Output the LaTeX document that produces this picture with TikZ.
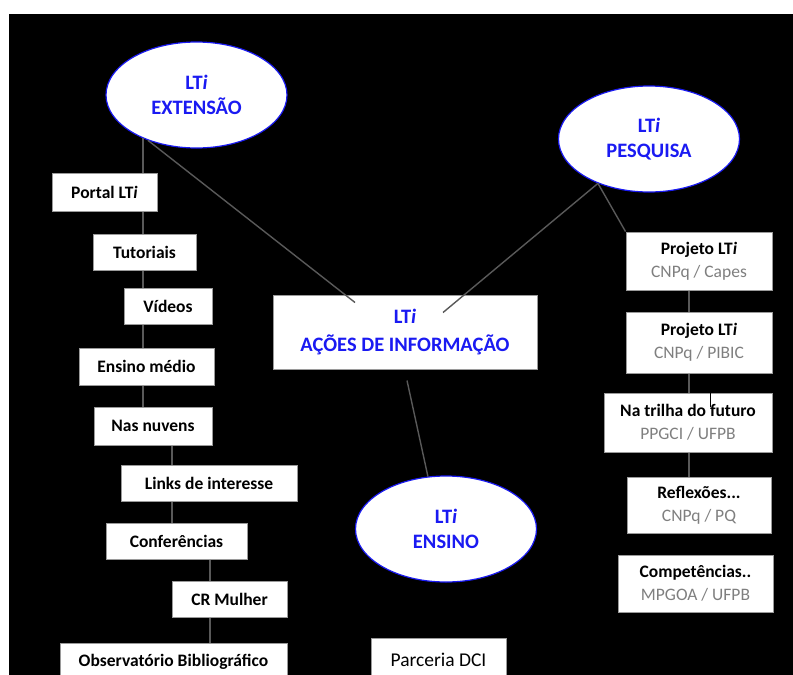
\documentclass[tikz,border=0pt]{standalone}
\usepackage{fontspec}
\setmainfont{Carlito}
\definecolor{LtiBlue}{HTML}{1A1AF2}
\definecolor{LtiGray}{HTML}{7F7F7F}
\definecolor{LtiLine}{HTML}{595959}
\definecolor{LtiEdge}{HTML}{9A9A9A}
\usetikzlibrary{calc,shapes.geometric}

\tikzset{
  ltiarea/.style={
    ellipse,
    fill=white,
    draw=LtiBlue,
    line width=1.2pt,
    minimum width=181pt,
    minimum height=106pt,
    inner sep=0pt,
    align=center,
    text=LtiBlue,
    font=\fontsize{20.5}{25}\selectfont\bfseries
  },
  itembox/.style={
    rectangle,
    fill=white,
    draw=LtiEdge,
    line width=1pt,
    minimum height=37pt,
    inner sep=0pt,
    font=\fontsize{17.5}{21}\selectfont\bfseries
  },
  projbox/.style={
    itembox,
    align=center,
    font=\fontsize{17.5}{23}\selectfont
  },
  link/.style={draw=LtiLine, line width=1.4pt}
}

\begin{document}
\begin{tikzpicture}[x=1pt,y=-1pt]
    \useasboundingbox (0,0) rectangle (793,675);
    \fill[white] (0,0) rectangle (793,675);
    \fill[black] (9,14) rectangle (793,675);

    % the three areas and the centre
    \node[ltiarea] (ext) at (196.5,95) {LT\textit{i}\\EXTENSÃO};
    \node[ltiarea] (pes) at (649,139) {LT\textit{i}\\PESQUISA};
    \node[ltiarea] (ens) at (446,529) {LT\textit{i}\\ENSINO};
    \node[
      itembox,
      minimum width=264pt,
      minimum height=74pt,
      align=center,
      text=LtiBlue,
      font=\fontsize{20.5}{28}\selectfont\bfseries
    ] (acoes) at (405,332) {LT\textit{i}\\AÇÕES DE INFORMAÇÃO};

    % extension column
    \node[itembox, minimum width=105pt, minimum height=38pt] (port) at (104.5,192) {Portal LT\textit{i}};
    \node[itembox, minimum width=103pt, minimum height=36pt] (tut) at (144.5,252) {Tutoriais};
    \node[itembox, minimum width=88pt, minimum height=36pt] (vid) at (168,306) {Vídeos};
    \node[itembox, minimum width=135pt] (ensm) at (146.5,366.5) {Ensino médio};
    \node[itembox, minimum width=118pt, minimum height=38pt] (nuv) at (153,426) {Nas nuvens};
    \node[itembox, minimum width=176pt, minimum height=36pt] (links) at (209,483) {Links de interesse\hspace{18pt}};
    \node[itembox, minimum width=141pt, minimum height=36pt] (conf) at (176.5,541) {Conferências};
    \node[itembox, minimum width=115pt, minimum height=36pt] (crm) at (229.5,599) {CR Mulher};
    \node[itembox, minimum width=227pt, minimum height=38pt] (obs) at (173.5,662) {Observatório Bibliográfico};

    % research column
    \node[projbox, minimum width=146pt, minimum height=58pt] (prj1) at (699,261)
      {\textbf{Projeto LT\textit{i}}\\{\color{LtiGray}CNPq / Capes}};
    \node[projbox, minimum width=146pt, minimum height=61pt] (prj2) at (699,342.5)
      {\textbf{Projeto LT\textit{i}}\\{\color{LtiGray}CNPq / PIBIC}};
    \node[projbox, minimum width=168pt, minimum height=59pt] (trilha) at (688,422.5)
      {\textbf{Na trilha do futuro}\\{\color{LtiGray}PPGCI / UFPB}};
    \node[projbox, minimum width=144pt, minimum height=56pt] (refl) at (699,505)
      {\textbf{Reflexões...}\\{\color{LtiGray}CNPq / PQ}};
    \node[projbox, minimum width=155pt, minimum height=57pt] (comp) at (695.5,583.5)
      {\textbf{Competências..}\\{\color{LtiGray}MPGOA / UFPB}};

    \node[
      itembox,
      minimum width=135pt,
      minimum height=44pt,
      font=\fontsize{19.5}{23}\selectfont
    ] (parc) at (438.5,660) {Parceria DCI};

    % connectors
    \coordinate (trunkA) at (143,0);
    \coordinate (trunkB) at (172,0);
    \coordinate (trunkC) at (210,0);
    \coordinate (trunkR) at (689,0);
    \coordinate (tick) at (710,0);

    \draw[link] (ext.219) -- (port.north -| ext.219);
    \foreach \a/\b/\t in {port/tut/trunkA, tut/vid/trunkA, vid/ensm/trunkA, ensm/nuv/trunkA,
        nuv/links/trunkB, links/conf/trunkB, conf/crm/trunkC, crm/obs/trunkC,
        prj1/prj2/trunkR, prj2/trilha/trunkR, trilha/refl/trunkR}
      \draw[link] (\a.south -| \t) -- (\b.north -| \t);

    \draw[link] (ext.223) -- ($(acoes.north)+(-50,8)$);
    \draw[link] (pes.221) -- ($(acoes.north)+(38,18)$);
    \draw[link] (pes.221) -- (prj1.north west);
    \draw[link] ($(acoes.south)+(2,11)$) -- (ens.109);
    \draw[black, line width=1pt] (trilha.north -| tick) -- ++(0,14);
  \end{tikzpicture}
\end{document}
